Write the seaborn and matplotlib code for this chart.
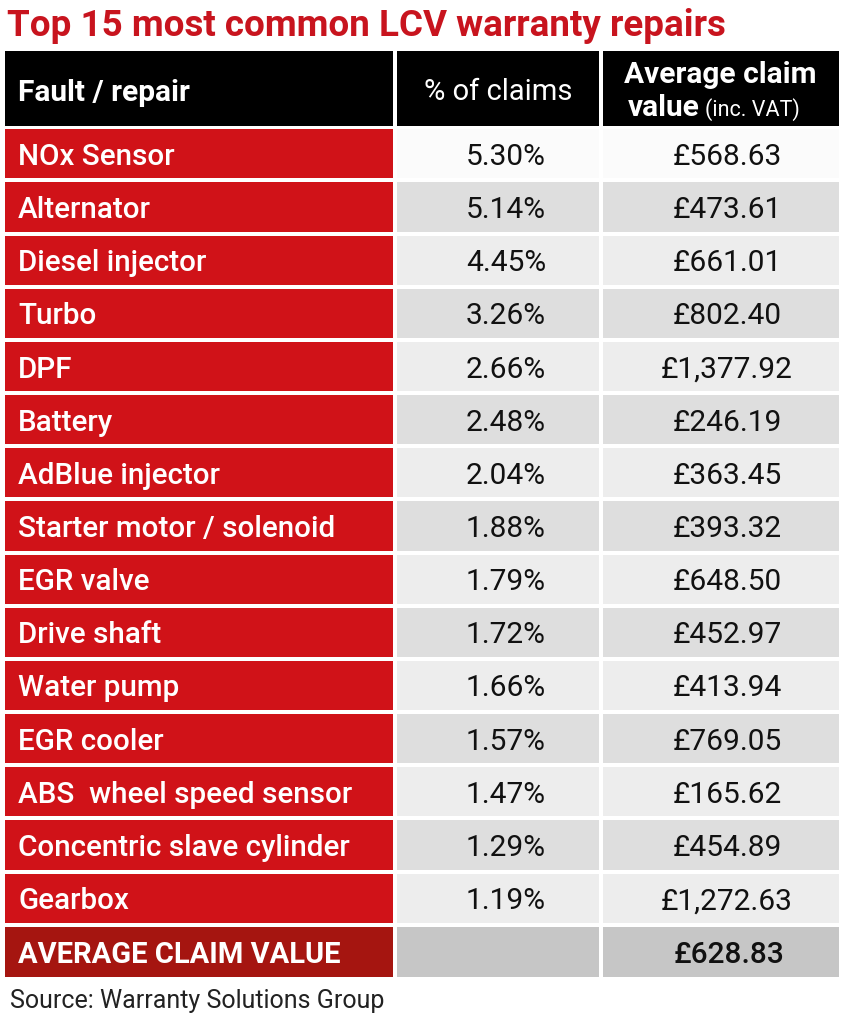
import numpy as np
import matplotlib
matplotlib.use("Agg")
import matplotlib.pyplot as plt
from matplotlib.colors import ListedColormap
from matplotlib.transforms import blended_transform_factory, ScaledTranslation
import seaborn as sns

# ---------------- data ----------------
title = "Top 15 most common LCV warranty repairs"
col_headers = ["Fault / repair", "% of claims", "Average claim", "value", "(inc. VAT)"]
faults = ["NOx Sensor", "Alternator", "Diesel injector", "Turbo", "DPF", "Battery",
          "AdBlue injector", "Starter motor / solenoid", "EGR valve", "Drive shaft",
          "Water pump", "EGR cooler", "ABS  wheel speed sensor",
          "Concentric slave cylinder", "Gearbox"]
pct_claims = [5.30, 5.14, 4.45, 3.26, 2.66, 2.48, 2.04, 1.88, 1.79, 1.72,
              1.66, 1.57, 1.47, 1.29, 1.19]
avg_claim = [568.63, 473.61, 661.01, 802.40, 1377.92, 246.19, 363.45, 393.32,
             648.50, 452.97, 413.94, 769.05, 165.62, 454.89, 1272.63]
total_label = "AVERAGE CLAIM VALUE"
overall_avg_claim = 628.83
source = "Source: Warranty Solutions Group"

# ---------------- style ----------------
sns.set_theme(style="white")
plt.rcParams["font.family"] = ["Roboto", "DejaVu Sans"]

RED = "#D01218"
DARK_RED = "#A51510"
TITLE_RED = "#C8141E"
SHADES = ["#FBFBFB", "#DEDEDE", "#EDEDED"]
AVG_GREY = "#C6C6C6"
TXT = "#111111"

W, H = 844, 1024
fig = plt.figure(figsize=(W / 100, H / 100), dpi=100)
fig.patch.set_facecolor("white")

GAP = 3.5
LW = GAP * 72 / 100

COLS = [(5, 393), (397, 599), (603, 839)]
HEAD = (51, 126)
BODY = (129, 923)
AVG = (927, 977)

LABEL_FS = 21.3
NUM_FS = 21.5
HEAD_FS = 21.5


def px_axes(xr, yr):
    x0, x1 = xr[0] - GAP / 2, xr[1] + GAP / 2
    y0, y1 = yr[0] - GAP / 2, yr[1] + GAP / 2
    return fig.add_axes([x0 / W, 1 - y1 / H, (x1 - x0) / W, (y1 - y0) / H])


def cells(ax, data, colors, annot=None, annot_kws=None):
    cmap = ListedColormap(colors)
    sns.heatmap(data, ax=ax, cmap=cmap, vmin=-0.5, vmax=len(colors) - 0.5,
                cbar=False, linewidths=LW, linecolor="white",
                xticklabels=False, yticklabels=False,
                annot=annot if annot is not None else False, fmt="",
                annot_kws=annot_kws or {})
    ax.set_xlabel("")
    ax.set_ylabel("")


n = len(faults)
shade_codes = np.array([0] + [1 if i % 2 == 1 else 2 for i in range(1, n)]).reshape(-1, 1)
pct_labels = np.array([f"{v:.2f}%" for v in pct_claims]).reshape(-1, 1)
val_labels = np.array([f"£{v:,.2f}" for v in avg_claim]).reshape(-1, 1)

# ---------- header row ----------
for c in COLS:
    ax = px_axes(c, HEAD)
    cells(ax, np.zeros((1, 1)), ["black"])

fig.text(18 / W, 1 - 101 / H, col_headers[0], color="white", fontsize=HEAD_FS,
         fontweight="bold", ha="left", va="baseline")
fig.text(498 / W, 1 - 100 / H, col_headers[1], color="white", fontsize=21,
         ha="center", va="baseline")
fig.text(720 / W, 1 - 83 / H, col_headers[2], color="white", fontsize=HEAD_FS,
         fontweight="bold", ha="center", va="baseline")
fig.text(700 / W, 1 - 116 / H, col_headers[3], color="white", fontsize=HEAD_FS,
         fontweight="bold", ha="right", va="baseline")
fig.text(705 / W, 1 - 116 / H, col_headers[4], color="white", fontsize=15.5,
         ha="left", va="baseline")

# ---------- body rows ----------
ax1 = px_axes(COLS[0], BODY)
cells(ax1, np.zeros((n, 1)), [RED])
tr = blended_transform_factory(ax1.transAxes, ax1.transData)
x_left = (18 - (COLS[0][0] - GAP / 2)) / ((COLS[0][1] - COLS[0][0]) + GAP)
for i, f in enumerate(faults):
    ax1.text(x_left, i + 0.5, f, transform=tr, color="white", fontsize=LABEL_FS,
             fontweight="medium", ha="left", va="center_baseline")

ax2 = px_axes(COLS[1], BODY)
off2 = ax2.transData + ScaledTranslation(8 / 100, 0, fig.dpi_scale_trans)
cells(ax2, shade_codes, SHADES, annot=pct_labels,
      annot_kws=dict(fontsize=NUM_FS, color=TXT, fontweight="normal",
                     va="center_baseline", transform=off2))

ax3 = px_axes(COLS[2], BODY)
off3 = ax3.transData + ScaledTranslation(6 / 100, 0, fig.dpi_scale_trans)
cells(ax3, shade_codes, SHADES, annot=val_labels,
      annot_kws=dict(fontsize=NUM_FS, color=TXT, fontweight="normal",
                     va="center_baseline", transform=off3))

# ---------- average row ----------
axa1 = px_axes(COLS[0], AVG)
cells(axa1, np.zeros((1, 1)), [DARK_RED])
tra = blended_transform_factory(axa1.transAxes, axa1.transData)
axa1.text(x_left, 0.5, total_label, transform=tra, color="white", fontsize=21,
          fontweight="bold", ha="left", va="center_baseline")

axa2 = px_axes(COLS[1], AVG)
cells(axa2, np.zeros((1, 1)), [AVG_GREY])

axa3 = px_axes(COLS[2], AVG)
offa = axa3.transData + ScaledTranslation(8 / 100, 0, fig.dpi_scale_trans)
cells(axa3, np.zeros((1, 1)), [AVG_GREY],
      annot=np.array([[f"£{overall_avg_claim:,.2f}"]]),
      annot_kws=dict(fontsize=NUM_FS, color=TXT, fontweight="medium",
                     va="center_baseline", transform=offa))

# ---------- title and source ----------
fig.text(7 / W, 1 - 36 / H, title, color=TITLE_RED, fontsize=26.5,
         fontweight="bold", ha="left", va="baseline")
fig.text(10 / W, 1 - 1008 / H, source, color="#222222", fontsize=18,
         ha="left", va="baseline")

fig.savefig("out.png", dpi=100, facecolor="white")
